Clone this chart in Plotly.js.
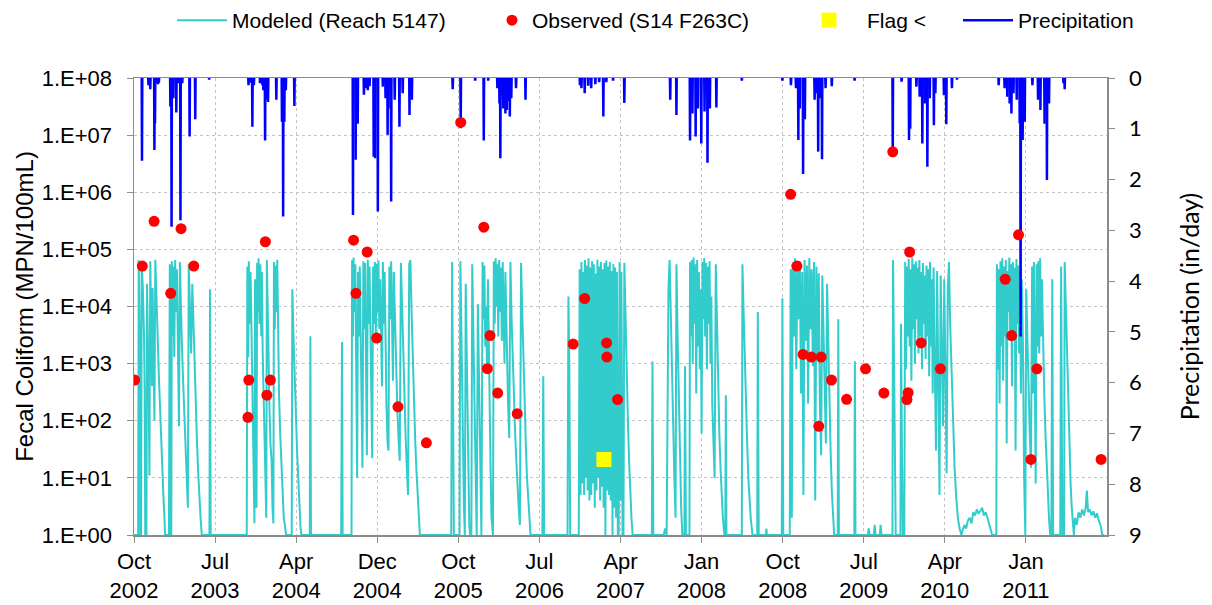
<!DOCTYPE html>
<html>
<head>
<meta charset="utf-8">
<script src="https://cdn.plot.ly/plotly-3.0.1.min.js"></script>
<style>
  html, body { margin: 0; padding: 0; background: #ffffff; }
  #chart { width: 1212px; height: 605px; }
</style>
</head>
<body>
<div id="chart"></div>
<script>
// ---------------- DATA ----------------
// Day counts are days since 2002-10-01 (start of the plotted period).
const START_DATE = '2002-10-01';

// Axis tick dates (every 274 days) and their labels
const xTickDates = ['2002-10-01','2003-07-02','2004-04-01','2004-12-31','2005-10-01','2006-07-02',
                    '2007-04-02','2008-01-01','2008-10-01','2009-07-02','2010-04-02','2011-01-01'];
const xTickLabels = ['Oct<br>2002','Jul<br>2003','Apr<br>2004','Dec<br>2004','Oct<br>2005','Jul<br>2006',
                     'Apr<br>2007','Jan<br>2008','Oct<br>2008','Jul<br>2009','Apr<br>2010','Jan<br>2011'];
const yTickValues = [1,10,100,1000,10000,100000,1000000,10000000,100000000];
const yTickLabels = ['1.E+00','1.E+01','1.E+02','1.E+03','1.E+04','1.E+05','1.E+06','1.E+07','1.E+08'];
const precipTicks = [0,1,2,3,4,5,6,7,8,9];

// Modeled fecal coliform (Reach 5147): [day, MPN/100mL]
const modeled = [
 [0,1],[14,1],[16,65000],[19,3000],[21,1],[24,1],[26,58000],[30,20000],[34,3000],[36,300],[38,1],[42,1],
 [44,25000],[47,3000],[50,200],[52,11],[55,62000],[58,5000],[61,400],[63,21000],[66,2000],[69,100],
 [72,66000],[76,20000],[80,3000],[84,600],[88,150],[92,50],[96,14],[100,4],[103,2],[105,1],[118,1],
 [121,55000],[124,1],[126,1],[128,62000],[131,3000],[133,50000],[136,1300],[139,65000],[142,8000],
 [145,45000],[149,1000],[152,80],[155,60000],[158,10000],[162,2000],[166,500],[170,150],[174,40],
 [178,10],[182,3],[185,55000],[189,8000],[193,1500],[197,25000],[201,4000],[205,700],[209,150],
 [213,40],[217,12],[221,4],[225,2],[229,1],[255,1],[257,20000],[259,1],
 [378,1],[381,1],[383,50000],[386,1300],[388,62000],[391,5000],[394,40000],[397,3000],[400,200],
 [403,20],[405,3],[407,1.6],[409,30000],[412,2000],[414,3],[416,58000],[419,8000],[421,70000],
 [424,5000],[427,55000],[430,3000],[432,40000],[435,1500],[438,200],[441,30],[444,5],[447,2],
 [449,65000],[452,5000],[455,800],[458,150],[461,40],[465,20],[468,3],[471,1.6],[473,60000],
 [476,4000],[478,52000],[481,8000],[484,66000],[487,2000],[490,300],[494,60],[498,15],[502,5],
 [506,2],[510,1.5],[514,1],[533,1],[535,20000],[539,3000],[543,500],[547,100],[551,30],[555,10],
 [559,3],[563,1.3],[566,1],[594,1],[596,3000],[598,1],
 [700,1],[703,2400],[705,1],[735,1],[737,65000],[740,3000],[742,72000],[745,8000],[748,55000],
 [751,2000],[754,10],[757,40000],[760,3000],[763,50000],[766,5000],[769,300],[772,15],[775,62000],
 [778,4000],[781,58000],[784,2000],[787,25],[790,66000],[793,5000],[796,50000],[799,3000],[802,200],
 [805,22],[808,50000],[811,5000],[814,60000],[817,3000],[820,56000],[823,8000],[826,64000],
 [829,4000],[832,30000],[835,2000],[838,400],[841,60000],[844,5000],[847,40000],[850,2000],
 [853,200],[857,40],[860,30],[863,50000],[866,6000],[869,62000],[872,3000],[875,500],[878,40000],
 [882,4000],[886,600],[890,150],[894,50],[898,20],[902,58000],[906,8000],[910,1000],[914,200],
 [918,50],[922,15],[926,5],[930,55000],[934,65000],[938,8000],[942,1000],[946,200],[950,50],
 [954,15],[958,5],[962,2],[966,1],
 [1072,1],[1075,60000],[1078,300],[1081,1],[1100,1],[1103,62000],[1106,5000],[1109,200],[1112,20],
 [1115,3],[1118,1],[1121,25000],[1124,2000],[1127,150],[1130,10],[1133,1.5],[1136,1],[1140,1],
 [1143,55000],[1146,4000],[1149,300],[1152,30],[1155,3],[1158,1],[1162,11000],[1165,800],[1168,60],
 [1171,5],[1174,1],[1178,60000],[1181,6000],[1184,52000],[1187,2000],[1190,10000],[1193,700],
 [1196,30000],[1199,1200],[1202,150],[1205,14],[1208,2],[1213,1],[1216,62000],[1219,5000],
 [1222,70000],[1225,10000],[1228,55000],[1231,3000],[1234,65000],[1237,8000],[1240,48000],
 [1243,2500],[1246,60000],[1249,3000],[1252,1000],[1255,40000],[1258,4000],[1261,800],[1264,200],
 [1268,50],[1272,60000],[1276,6000],[1280,1000],[1284,200],[1288,60],[1292,20],[1296,6],[1300,3],
 [1304,1.5],[1308,58000],[1312,8000],[1316,1000],[1320,150],[1324,40],[1328,10],[1332,4],[1336,2],
 [1340,1],
 [1380,1],[1383,600],[1386,1],[1465,1],[1468,15000],[1471,1000],[1474,1],[1503,1],[1506,45000],
 [1509,5],[1512,60000],[1515,8],[1518,40000],[1521,5],[1524,65000],[1527,10],[1530,52000],[1533,6],
 [1536,70000],[1539,4],[1542,48000],[1545,5],[1548,62000],[1551,8],[1554,55000],[1557,3],
 [1560,38000],[1563,6],[1566,66000],[1569,10],[1572,50000],[1575,4],[1578,60000],[1581,7],
 [1584,45000],[1587,3],[1590,58000],[1593,1],[1596,64000],[1599,6],[1602,50000],[1605,5],
 [1608,60000],[1611,4],[1614,42000],[1617,1],[1620,55000],[1623,3],[1626,48000],[1629,2],
 [1632,40000],[1635,1],[1638,1],[1641,60000],[1644,4],[1647,40000],[1651,1],[1654,1],[1657,58000],
 [1661,5000],[1665,700],[1669,100],[1673,20],[1677,5],[1681,2],[1685,1],
 [1750,1],[1752,1100],[1755,1],[1790,1],[1795,1.3],[1800,1],[1806,20000],[1810,65000],[1814,5000],
 [1818,500],[1822,60],[1826,10],[1830,2],[1833,55000],[1837,3000],[1841,200],[1845,20],[1849,3],
 [1853,1],[1860,1],[1862,900],[1865,1],[1877,1],[1879,60000],[1882,3000],[1885,65000],[1888,1000],
 [1891,72000],[1894,5000],[1897,55000],[1900,300],[1903,65000],[1906,2000],[1909,40000],[1912,800],
 [1915,20000],[1918,60],[1921,60000],[1924,6000],[1927,70000],[1930,3000],[1933,58000],[1936,800],
 [1939,50000],[1942,5000],[1945,62000],[1948,1000],[1951,15000],[1954,200],[1958,40],[1962,10],
 [1966,55000],[1970,4000],[1974,400],[1978,60],[1982,15],[1986,5],[1990,2],[1995,1],[1998,1],
 [2000,280],[2002,1],[2054,1],[2056,55000],[2060,8000],[2064,1000],[2068,150],[2072,40],[2076,10],
 [2080,4],[2084,2],[2090,1],[2106,1],[2108,8000],[2111,1],[2135,1],[2137,1.3],[2139,1],
 [2189,1],[2191,14000],[2194,1],[2216,1],[2219,45000],[2223,2],[2226,55000],[2230,3000],[2234,70000],
 [2238,800],[2242,48000],[2246,6000],[2250,62000],[2254,300],[2258,40000],[2262,5],[2266,65000],
 [2270,2500],[2274,52000],[2278,200],[2282,70000],[2286,4000],[2290,45000],[2294,900],[2298,60000],
 [2302,4],[2306,50000],[2310,1500],[2314,38000],[2318,150],[2322,25],[2326,35000],[2330,3000],
 [2334,300],[2338,40],[2342,25000],[2346,2000],[2350,200],[2354,30],[2358,6],[2362,2],[2366,1],
 [2378,1],[2380,6000],[2382,1],[2434,1],[2436,1100],[2438,1],[2480,1],[2483,1.3],[2486,1],
 [2500,1],[2503,1.5],[2506,1],[2520,1],[2523,1.5],[2526,1],[2563,1],[2565,65000],[2568,1000],
 [2571,10],[2574,1],[2590,1],[2592,5000],[2595,30],[2598,1],[2603,1],[2606,60000],[2609,800],
 [2612,50000],[2615,3000],[2618,68000],[2621,2000],[2624,45000],[2627,500],[2630,72000],[2633,4000],
 [2636,55000],[2639,1000],[2642,62000],[2645,6000],[2648,48000],[2651,1500],[2654,65000],[2657,3000],
 [2660,40000],[2663,800],[2666,58000],[2669,5000],[2672,35000],[2675,1200],[2678,52000],[2681,3000],
 [2684,45000],[2687,600],[2690,60000],[2693,2000],[2696,30000],[2699,300],[2702,48000],[2706,1000],
 [2710,30],[2714,42000],[2718,600],[2722,5],[2726,35000],[2730,1500],[2734,80],[2738,30000],
 [2742,400],[2746,12],[2750,20000],[2754,60000],[2758,5000],[2763,500],[2768,80],[2773,15],
 [2778,5],[2784,2],[2790,1.3],[2796,1],
 [2800,1.2],[2806,1.5],[2812,1.3],[2818,1.8],[2824,2],[2830,1.6],[2836,2.5],[2842,2.2],[2848,2.8],
 [2854,2.4],[2860,2.6],[2866,3],[2872,2.2],[2878,2.5],[2884,2],[2890,1.6],[2896,1.2],[2900,1],
 [2910,1],[2914,1],[2916,55000],[2919,800],[2922,45000],[2925,200],[2928,62000],[2931,2000],
 [2934,70000],[2937,500],[2940,50000],[2943,3000],[2946,65000],[2949,40],[2952,42000],[2955,8000],
 [2958,72000],[2961,2500],[2964,55000],[2967,400],[2970,60000],[2973,3000],[2976,48000],[2979,30],
 [2982,68000],[2985,5000],[2988,52000],[2991,1500],[2994,40000],[2997,300],[3000,30000],[3004,2000],
 [3008,10],[3012,1],[3015,20000],[3019,2000],[3023,300],[3027,60],[3031,15],[3035,50000],[3038,300],
 [3041,60000],[3044,800],[3047,8],[3050,55000],[3053,2000],[3056,62000],[3059,1500],[3062,70000],
 [3065,3000],[3068,30000],[3072,2000],[3076,300],[3080,60],[3084,15],[3088,5],[3092,2],[3096,1],
 [3100,1],[3103,30000],[3106,1],[3130,1],[3133,50000],[3137,1],[3143,1],[3145,60000],[3149,8000],
 [3153,1000],[3157,150],[3161,30],[3165,8],[3169,3],[3173,1.3],[3176,1],[3180,2],[3186,1.5],
 [3192,2.5],[3198,2],[3204,2.8],[3210,2.2],[3216,3],[3220,6],[3224,2.5],[3230,2.8],[3236,2.2],
 [3242,2.6],[3248,2],[3254,2.4],[3260,1.8],[3266,1.5],[3272,1],[3279,1]
];

// Observed samples (S14 F263C)
const observedDates = ['2002-10-03','2002-10-29','2002-12-08','2003-02-02','2003-03-09','2003-04-21',
 '2003-10-21','2003-10-24','2003-12-19','2003-12-24','2004-01-05','2004-10-12','2004-10-20','2004-11-27',
 '2004-12-29','2005-03-11','2005-06-15','2005-10-09','2005-12-26','2006-01-07','2006-01-16','2006-02-11',
 '2006-04-18','2006-10-24','2006-12-02','2007-02-14','2007-02-15','2007-03-23','2008-10-28','2008-11-18',
 '2008-12-09','2009-01-06','2009-01-31','2009-02-08','2009-03-15','2009-05-05','2009-07-08','2009-09-08',
 '2009-10-08','2009-11-25','2009-11-29','2009-12-04','2010-01-12','2010-03-18','2010-10-23','2010-11-14',
 '2010-12-07','2011-01-18','2011-02-07','2011-09-12'];
const observedValues = [515,51000,310000,17000,230000,51000,
 115,515,136000,280,515,145000,17000,90000,
 2800,175,41,16700000,245000,815,3100,305,
 133,2200,13800,2300,1300,235,920000,51000,
 1450,1300,80,1300,515,237,810,305,
 5100000,235,310,90000,2300,810,30000,3100,
 180000,21,810,21];

// Censored sample ("<")
const flagDates = ['2007-02-05'];
const flagValues = [21];

// Daily precipitation (in/day), days with rain
const precipDay = [27,49,55,69,71,76,81,84,123,127,133,143,148,157,163,188,207,254,
 387,394,400,405,426,434,437,443,448,453,481,500,504,508,513,542,
 740,749,756,777,785,790,796,810,815,824,841,850,857,860,869,881,897,908,931,939,
 1077,1104,1153,1182,1197,1228,1235,1238,1245,1248,1255,1260,1265,1270,1275,1291,1323,
 1507,1512,1523,1535,1545,1559,1572,1586,1596,1619,1657,
 1812,1833,1879,1887,1898,1906,1917,1928,1938,1946,1968,2054,
 2191,2220,2237,2245,2250,2261,2267,2300,2304,2312,2318,2325,2337,2358,
 2435,2564,2594,2619,2623,2644,2655,2664,2672,2681,2689,2703,2708,2737,2745,2764,2781,
 2922,2942,2951,2959,2965,2972,2983,2993,2996,3003,3010,3036,3055,3063,3077,3085,3092,3141,3145];
const precipValue = [1.63,0.14,0.22,1.42,0.89,0.10,0.12,0.09,0.56,2.93,0.40,0.68,0.10,2.80,0.10,1.15,0.81,0.03,
 0.14,0.09,0.96,0.14,0.10,0.14,0.24,1.23,0.43,0.47,0.43,0.86,2.73,0.86,0.24,0.55,
 2.70,1.61,0.90,0.33,0.20,0.24,0.16,1.55,1.58,2.63,0.17,0.40,1.12,0.60,2.43,0.43,0.96,0.30,0.73,0.43,
 0.22,0.99,0.05,1.23,0.05,0.20,0.50,1.58,0.35,0.60,0.70,0.63,0.45,0.76,0.40,0.20,0.43,
 0.14,0.20,0.30,0.15,0.20,0.12,0.08,0.76,0.08,0.05,0.49,
 0.43,0.73,1.23,0.70,1.15,0.60,1.29,0.66,1.67,0.60,0.58,0.05,
 0.05,0.14,0.20,1.22,0.60,1.89,0.81,0.43,0.30,1.45,0.40,1.60,0.20,0.16,
 0.05,1.45,0.07,1.22,1.00,0.17,0.37,1.29,0.50,1.75,0.40,0.93,0.30,0.34,0.91,0.20,0.03,
 0.14,0.20,0.37,0.50,0.70,0.30,0.43,0.89,5.09,1.22,0.86,0.14,0.43,0.63,0.90,2.01,0.50,0.10,0.22];

// ---------------- BUILD ----------------
const startMs = Date.parse(START_DATE + 'T00:00:00Z');
function dayToDate(d) {
  return new Date(startMs + d * 86400000).toISOString().slice(0, 10);
}

const modeledX = modeled.map(p => dayToDate(p[0]));
const modeledY = modeled.map(p => p[1]);

// daily precipitation spikes: zero on the day before and after each rain day
const precipX = [], precipY = [];
precipDay.forEach((d, i) => {
  precipX.push(dayToDate(d - 1), dayToDate(d), dayToDate(d + 1), null);
  precipY.push(0, precipValue[i], 0, null);
});

const FONT = 'Liberation Sans, Arial, sans-serif';
const RFONT = 'Lato, Carlito, Calibri, sans-serif';
const AXIS_COLOR = '#8C8C8C';
const GRID_COLOR = '#C4C4C4';

const traces = [
  {
    name: 'Modeled (Reach 5147)', x: modeledX, y: modeledY, yaxis: 'y',
    type: 'scatter', mode: 'lines', legend: 'legend',
    line: { color: '#33CCCC', width: 2 }
  },
  {
    name: 'Precipitation', x: precipX, y: precipY, yaxis: 'y2',
    type: 'scatter', mode: 'lines', connectgaps: false, legend: 'legend4',
    line: { color: '#0000FF', width: 2.5 }
  },
  {
    name: 'Observed (S14 F263C)', x: observedDates, y: observedValues, yaxis: 'y3',
    type: 'scatter', mode: 'markers', legend: 'legend2',
    marker: { color: '#FF0000', size: 11, symbol: 'circle' }
  },
  {
    name: 'Flag <', x: flagDates, y: flagValues, yaxis: 'y3',
    type: 'scatter', mode: 'markers', legend: 'legend3',
    marker: { color: '#FFFF00', size: 15, symbol: 'square' }
  }
];

function legendAt(leftPx, itemwidth) {
  return {
    orientation: 'h', xref: 'container', yref: 'container',
    x: leftPx / 1212, xanchor: 'left', y: 1.0, yanchor: 'top',
    itemwidth: itemwidth,
    font: { family: FONT, size: 21, color: '#000000' },
    bgcolor: 'rgba(0,0,0,0)'
  };
}

const layout = {
  width: 1212, height: 605,
  paper_bgcolor: '#ffffff', plot_bgcolor: '#ffffff',
  margin: { l: 134, r: 105, t: 78, b: 70 },
  font: { family: FONT, size: 22, color: '#000000' },
  showlegend: true,
  legend: legendAt(172, 50),
  legend2: legendAt(492, 30),
  legend3: legendAt(791, 66),
  legend4: legendAt(958, 50),
  xaxis: {
    type: 'date', range: ['2002-10-01', '2011-10-02'],
    tickmode: 'array', tickvals: xTickDates, ticktext: xTickLabels,
    tickfont: { family: FONT, size: 22 },
    ticks: 'outside', ticklen: 6, tickcolor: AXIS_COLOR, tickwidth: 1,
    showline: true, linecolor: AXIS_COLOR, linewidth: 1.5, mirror: true,
    showgrid: true, gridcolor: GRID_COLOR, griddash: '3px,3px', gridwidth: 1,
    zeroline: false
  },
  yaxis: {
    type: 'log', range: [0, 8],
    tickmode: 'array', tickvals: yTickValues, ticktext: yTickLabels,
    tickfont: { family: FONT, size: 22 },
    ticks: 'outside', ticklen: 6, tickcolor: AXIS_COLOR, ticklabelstandoff: 10,
    showline: true, linecolor: AXIS_COLOR, linewidth: 1.5,
    showgrid: true, gridcolor: GRID_COLOR, griddash: '3px,3px', gridwidth: 1,
    zeroline: false,
    title: { text: 'Fecal Coliform (MPN/100mL)', font: { family: FONT, size: 24 }, standoff: 1 }
  },
  yaxis2: {
    overlaying: 'y', side: 'right', range: [9, 0], autorange: false,
    tickmode: 'array', tickvals: precipTicks,
    tickfont: { family: RFONT, size: 22 },
    ticks: 'outside', ticklen: 6, tickcolor: AXIS_COLOR, ticklabelstandoff: 10,
    showline: true, linecolor: AXIS_COLOR, linewidth: 1.5,
    showgrid: false, zeroline: false,
    title: { text: 'Precipitation (in/day)', font: { family: RFONT, size: 25 }, standoff: 40 }
  },
  yaxis3: {
    overlaying: 'y', type: 'log', range: [0, 8], autorange: false,
    showticklabels: false, showgrid: false, showline: false, zeroline: false, ticks: ''
  }
};

Plotly.newPlot('chart', traces, layout, { displayModeBar: false, staticPlot: true });
</script>
</body>
</html>
